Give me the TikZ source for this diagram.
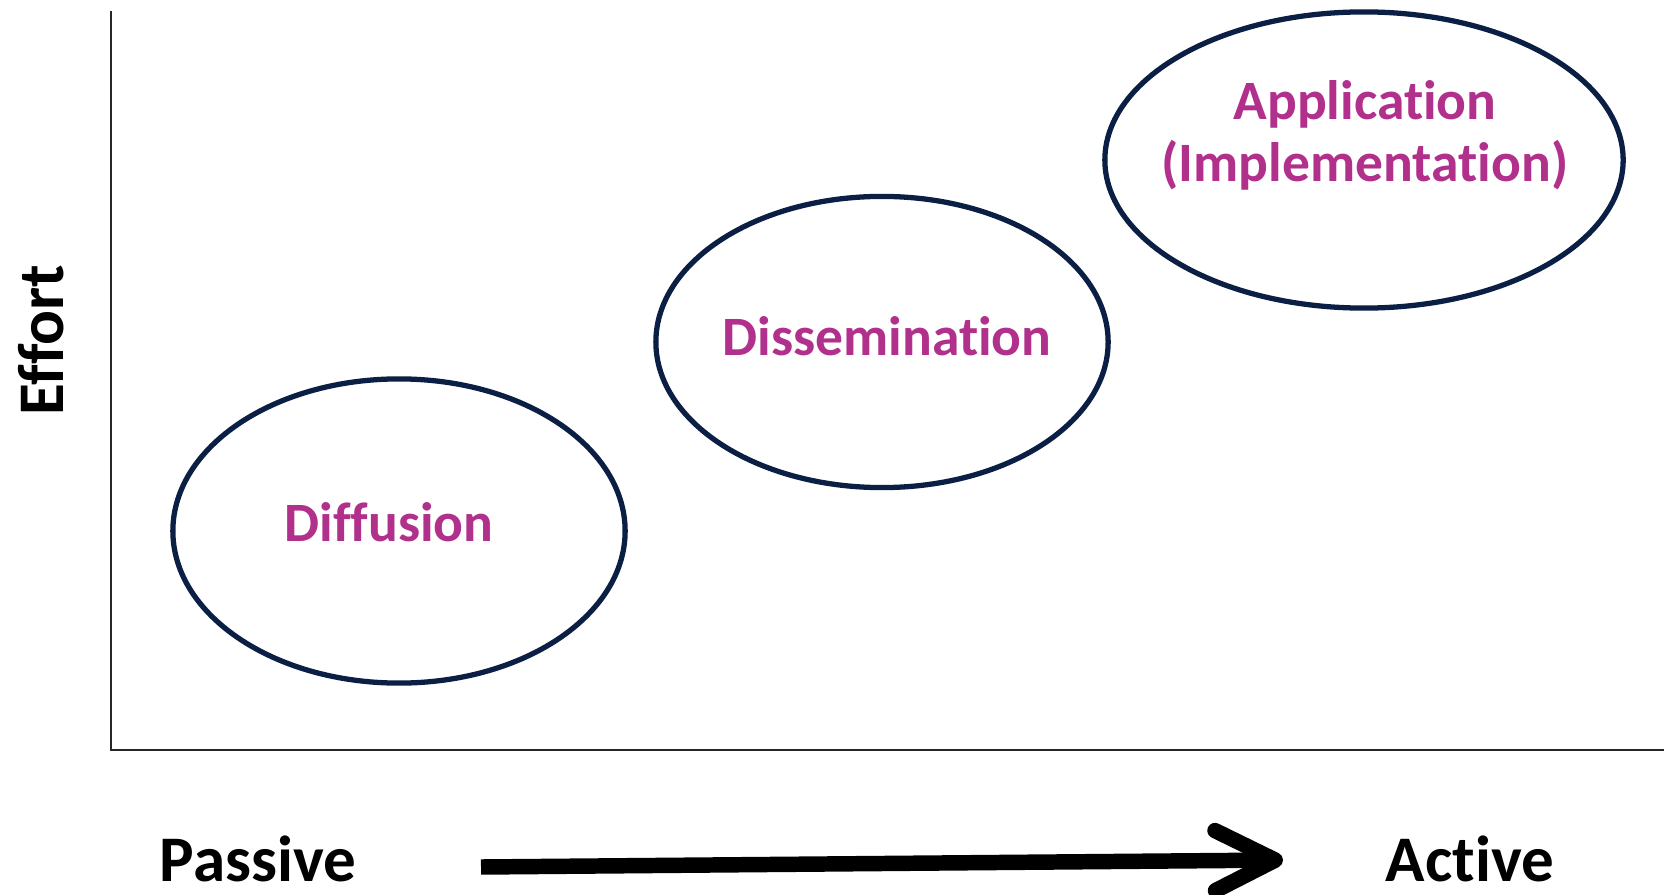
\documentclass[tikz,border=0pt]{standalone}
\usepackage{fontspec}
\setmainfont{Carlito}[Ligatures=CommonOff]
\usetikzlibrary{arrows.meta,shapes.geometric}
\definecolor{navy}{HTML}{0B1F45}
\definecolor{plum}{HTML}{B0308C}

\begin{document}
\begin{tikzpicture}[x=0.01cm, y=-0.01cm,
  stage/.style={draw=navy, line width=1.5pt, ellipse, inner sep=0pt},
  stagetext/.style={text=plum, font=\fontsize{15.8}{17.8}\selectfont\bfseries, align=center, anchor=base, inner sep=0pt},
  axistext/.style={font=\fontsize{18.5}{20}\selectfont\bfseries, anchor=base, inner sep=0pt}]
  \useasboundingbox (0,0) rectangle (1664,894);

  % axes
  \coordinate (top) at (111,11);
  \coordinate (origin) at (111,750);
  \coordinate (right) at (1664,750);
  \draw[line width=0.45pt, black!85] (top) -- (origin) -- (right);
  \node[axistext, rotate=90] (Effort) at (64,340) {Effort};

  % stages
  \node[stage, minimum width=4.52cm, minimum height=3.04cm] (Diffusion) at (399,531) {};
  \node[stage, minimum width=4.52cm, minimum height=2.91cm] (Dissemination) at (882,342) {};
  \node[stage, minimum width=5.18cm, minimum height=2.96cm] (Application) at (1364,160) {};
  \node[stagetext] (DiffusionText) at (389,541) {Diffusion};
  \node[stagetext] (DisseminationText) at (887,355) {Dissemination};
  \node[stagetext] (ApplicationText) at (1365,182) {Application\\(Implementation)};

  % passive -> active
  \node[axistext] (Passive) at (258,881) {Passive};
  \node[axistext] (Active) at (1470,881) {Active};
  \coordinate (arrowstart) at (481,867);
  \coordinate (arrowend) at (1283,860);
  \draw[line width=4.4pt, -{Straight Barb[length=0.6cm, width=0.6cm, line cap=round, line join=round]}] (arrowstart) -- (arrowend);
\end{tikzpicture}
\end{document}
